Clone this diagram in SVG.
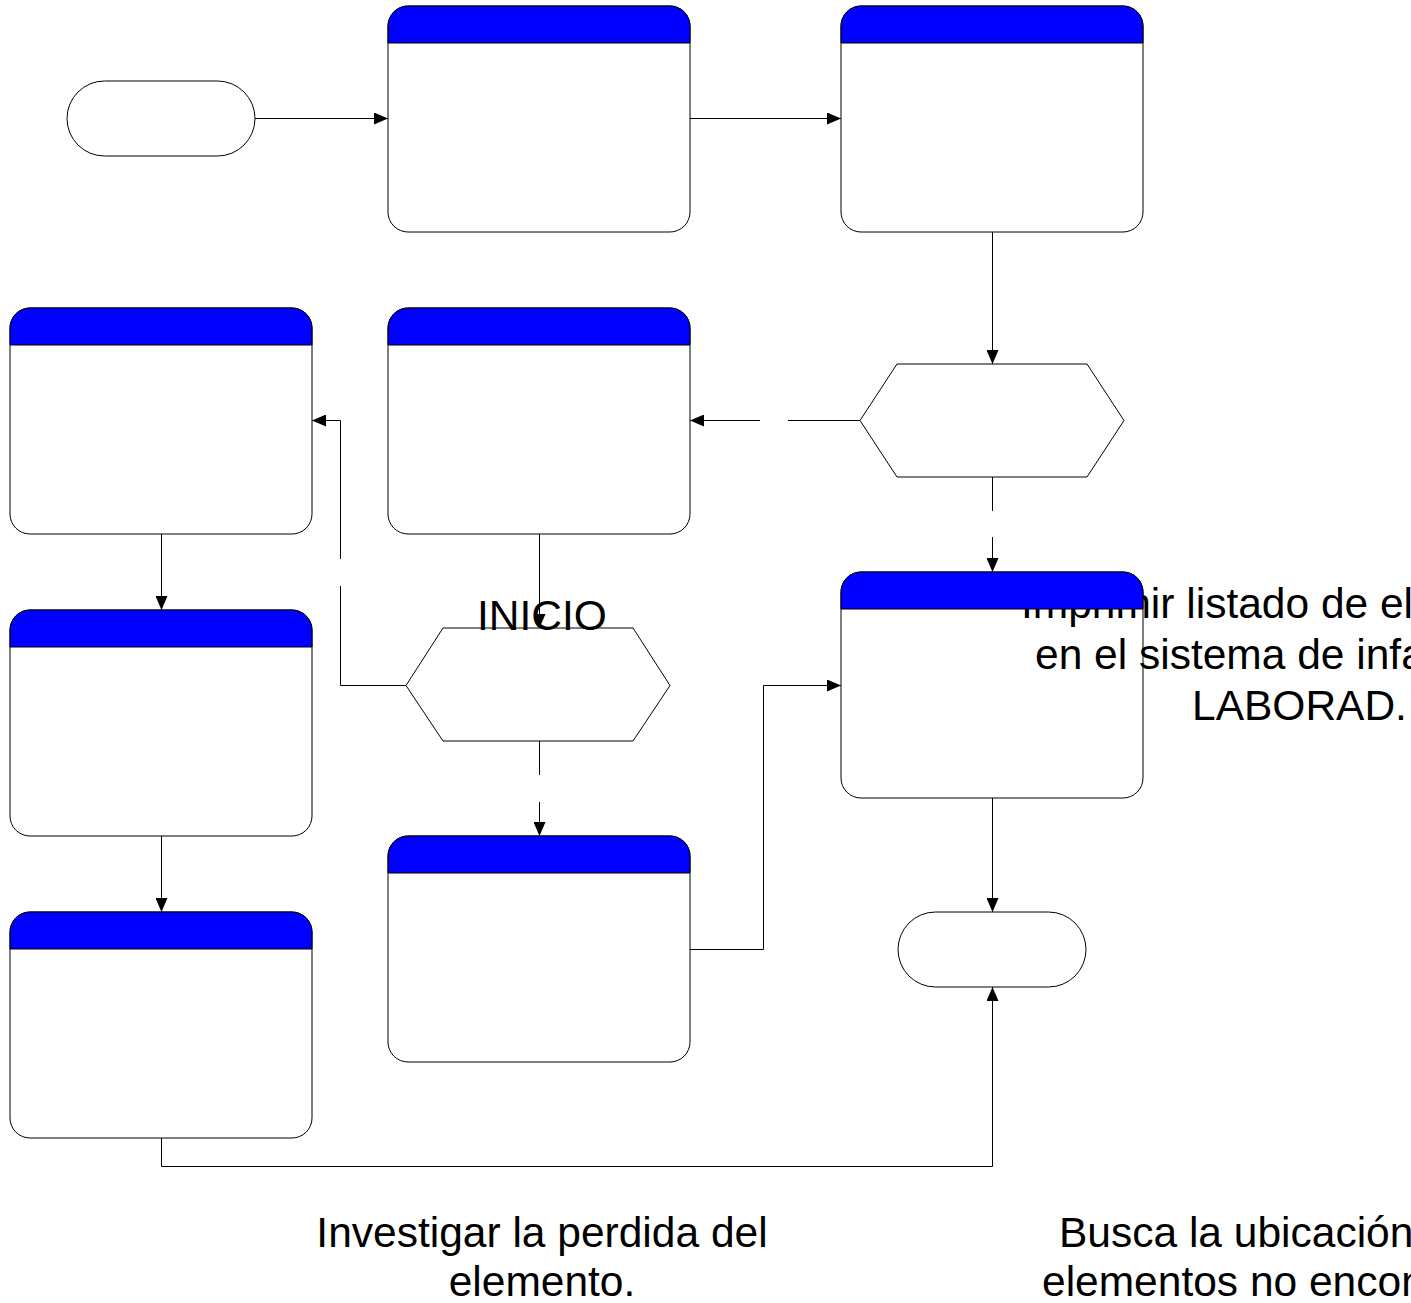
<svg xmlns="http://www.w3.org/2000/svg" width="1411" height="1303" viewBox="0 0 1411 1303">
  <defs>
    <marker id="arrow" viewBox="0 0 14 12" refX="14" refY="6" markerWidth="14" markerHeight="12" markerUnits="userSpaceOnUse" orient="auto">
      <path d="M0,0 L14,6 L0,12 Z" fill="#000"/>
    </marker>
  </defs>
  <style>
    .body { fill: #fff; stroke: #000; stroke-width: 1; }
    .head { fill: #0000ff; stroke: #000; stroke-width: 1; }
    .term { fill: #fff; stroke: #000; stroke-width: 1; }
    .hex { fill: #fff; stroke: #000; stroke-width: 1; }
    .wire { fill: none; stroke: #000; stroke-width: 1; }
    .arr { marker-end: url(#arrow); }
    .lbl { font-family: "Liberation Sans", Arial, sans-serif; font-size: 42.5px; fill: #000; }
  </style>

  <!-- connectors -->
  <g id="connectors">
    <path class="wire arr" d="M255,118.5 H388"/>
    <path class="wire arr" d="M690,118.5 H841"/>
    <path class="wire arr" d="M992.5,232 V364"/>
    <path class="wire" d="M860,420.5 H788"/>
    <path class="wire arr" d="M760,420.5 H690"/>
    <path class="wire" d="M992.5,477 V511"/>
    <path class="wire arr" d="M992.5,537 V572"/>
    <path class="wire arr" d="M539.5,534 V628"/>
    <path class="wire" d="M406,685.5 H340.5 V586"/>
    <path class="wire arr" d="M340.5,559 V420.5 H312"/>
    <path class="wire" d="M539.5,741 V775"/>
    <path class="wire arr" d="M539.5,802 V836"/>
    <path class="wire arr" d="M161.5,534 V610"/>
    <path class="wire arr" d="M161.5,836 V912"/>
    <path class="wire arr" d="M690,949.5 H763.5 V685.5 H841"/>
    <path class="wire arr" d="M992.5,798 V912"/>
    <path class="wire arr" d="M161.5,1138 V1166.5 H992.5 V987"/>
  </g>

  <!-- start / end terminators -->
  <g id="terminal-start">
    <rect class="term" x="67" y="81" width="188" height="75" rx="37.5"/>
  </g>
  <g id="terminal-end">
    <rect class="term" x="898" y="912" width="188" height="75" rx="37.5"/>
  </g>

  <!-- decisions -->
  <g id="decision-1">
    <polygon class="hex" points="860,420.5 897,364 1087,364 1124,420.5 1087,477 897,477"/>
  </g>
  <g id="decision-2">
    <polygon class="hex" points="406,685.5 443,628 633,628 670,685.5 633,741 443,741"/>
  </g>

  <!-- process boxes: white body with blue title strip -->
  <g id="process-1">
    <rect class="body" x="388" y="6" width="302" height="226" rx="20"/>
    <path class="head" d="M388,43 V26 A20,20 0 0 1 408,6 H670 A20,20 0 0 1 690,26 V43 Z"/>
  </g>
  <g id="process-2">
    <rect class="body" x="841" y="6" width="302" height="226" rx="20"/>
    <path class="head" d="M841,43 V26 A20,20 0 0 1 861,6 H1123 A20,20 0 0 1 1143,26 V43 Z"/>
  </g>
  <g id="process-3">
    <rect class="body" x="388" y="308" width="302" height="226" rx="20"/>
    <path class="head" d="M388,345 V328 A20,20 0 0 1 408,308 H670 A20,20 0 0 1 690,328 V345 Z"/>
  </g>
  <g id="process-4">
    <rect class="body" x="10" y="308" width="302" height="226" rx="20"/>
    <path class="head" d="M10,345 V328 A20,20 0 0 1 30,308 H292 A20,20 0 0 1 312,328 V345 Z"/>
  </g>
  <g id="process-5">
    <rect class="body" x="10" y="610" width="302" height="226" rx="20"/>
    <path class="head" d="M10,647 V630 A20,20 0 0 1 30,610 H292 A20,20 0 0 1 312,630 V647 Z"/>
  </g>
  <g id="process-6">
    <rect class="body" x="10" y="912" width="302" height="226" rx="20"/>
    <path class="head" d="M10,949 V932 A20,20 0 0 1 30,912 H292 A20,20 0 0 1 312,932 V949 Z"/>
  </g>
  <g id="process-7">
    <rect class="body" x="388" y="836" width="302" height="226" rx="20"/>
    <path class="head" d="M388,873 V856 A20,20 0 0 1 408,836 H670 A20,20 0 0 1 690,856 V873 Z"/>
  </g>
  <g id="process-8">
    <rect class="body" x="841" y="572" width="302" height="226" rx="20"/>
    <text class="lbl" x="1021" y="618">Imprimir listado de el</text>
    <text class="lbl" x="1035" y="669">en el sistema de infa</text>
    <text class="lbl" x="1192" y="720">LABORAD.</text>
    <path class="head" d="M841,609 V592 A20,20 0 0 1 861,572 H1123 A20,20 0 0 1 1143,592 V609 Z"/>
  </g>

  <!-- free labels -->
  <g id="labels">
    <text class="lbl" x="542" y="630" text-anchor="middle">INICIO</text>
    <text class="lbl" x="542" y="1247" text-anchor="middle">Investigar la perdida del</text>
    <text class="lbl" x="542" y="1296" text-anchor="middle">elemento.</text>
    <text class="lbl" x="1059" y="1247">Busca la ubicación</text>
    <text class="lbl" x="1042" y="1296">elementos no encon</text>
  </g>
</svg>
